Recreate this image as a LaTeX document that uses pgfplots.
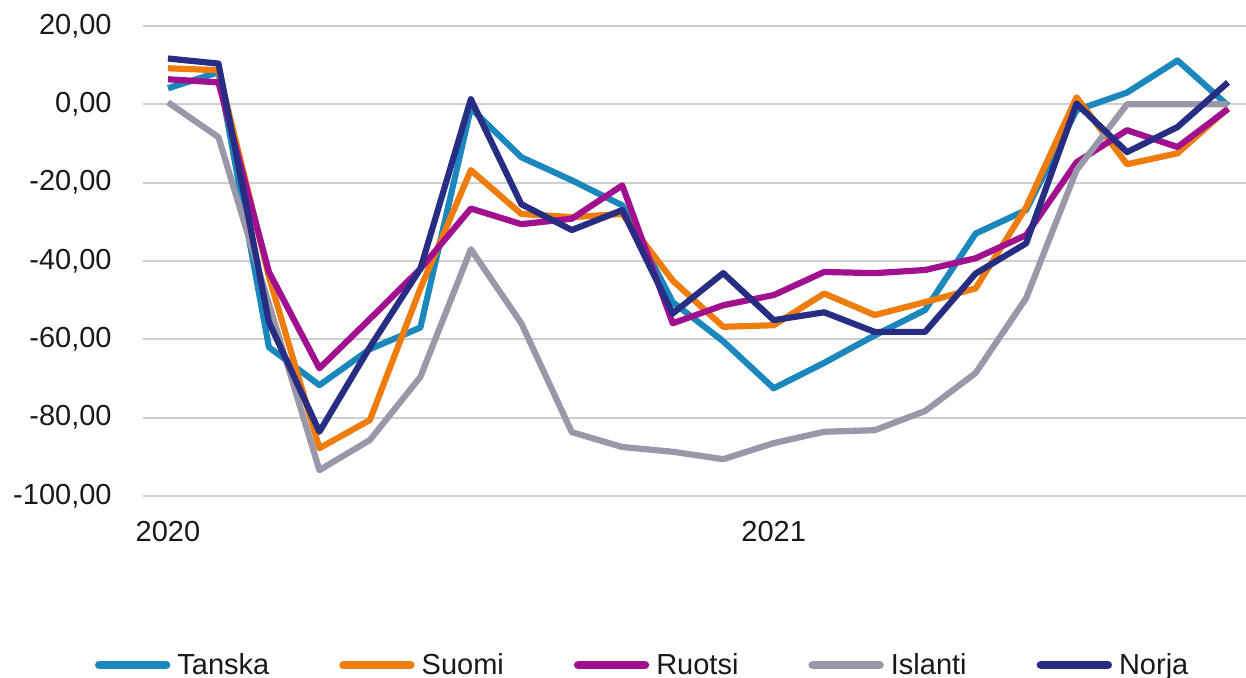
\documentclass[border=0pt]{standalone}
\usepackage{fontspec}
\setmainfont{Liberation Sans}
\usepackage{pgfplots}
\pgfplotsset{compat=1.18}
\usepackage{pgfplotstable}
\definecolor{tanska}{HTML}{1A88BC}
\definecolor{suomi}{HTML}{EF7D0E}
\definecolor{ruotsi}{HTML}{A1118F}
\definecolor{islanti}{HTML}{9898A8}
\definecolor{norja}{HTML}{282D84}
\definecolor{gridc}{HTML}{CFCFCF}

% kuukaudet 0 = tammikuu 2020 ... 21 = lokakuu 2021
\pgfplotstableread{
i  tanska suomi ruotsi islanti norja
0   4.1    9.2   6.4    0.5    11.7
1   8.2    8.7   5.6   -8.4    10.4
2  -62.0  -44.0 -42.8  -51.0  -55.6
3  -71.7  -87.8 -67.4  -93.4  -83.6
4  -62.5  -80.6 -54.8  -85.7  -62.0
5  -57.0  -47.0 -42.0  -69.6  -42.0
6   -1.0  -16.8 -26.6  -37.0    1.3
7  -13.5  -28.0 -30.6  -55.9  -25.5
8  -19.4  -28.8 -29.2  -83.7  -32.1
9  -25.8  -28.0 -20.7  -87.5  -27.0
10 -50.5  -45.0 -55.9  -88.7  -53.4
11 -60.5  -56.8 -51.3  -90.6  -43.1
12 -72.5  -56.4 -48.7  -86.5  -55.1
13 -66.0  -48.3 -42.8  -83.6  -53.1
14 -59.0  -53.8 -43.1  -83.2  -58.1
15 -52.5  -50.5 -42.3  -78.3  -58.1
16 -33.0  -47.0 -39.3  -68.6  -43.2
17 -27.0  -26.3 -33.4  -49.5  -35.5
18  -1.5    1.8 -14.8  -16.8    0.2
19   3.0  -15.3  -6.6    0.0  -12.2
20  11.2  -12.5 -10.9    0.0   -5.8
21  -0.3   -1.0  -1.2    0.0    5.6
}\data

\begin{document}
\begin{tikzpicture}
\begin{axis}[
    scale only axis,
    width=551.5pt, height=235pt,
    xmin=-0.495, xmax=21.357,
    ymin=-100, ymax=20,
    axis line style={draw=none},
    major tick length=0pt,
    xtick={0,12}, xticklabels={2020,2021},
    ytick={-100,-80,...,20},
    yticklabels={{-100,00},{-80,00},{-60,00},{-40,00},{-20,00},{0,00},{20,00}},
    ymajorgrids=true,
    y grid style={gridc, line width=1.1pt},
    tick label style={font=\fontsize{14.5}{17}\selectfont, text=black!90},
    yticklabel style={anchor=east, inner sep=0pt, xshift=-15.5pt},
    xticklabel style={anchor=north, inner sep=0pt, yshift=-12.5pt},
    every axis plot/.append style={line width=3.1pt, line join=round, mark=none},
    legend columns=-1,
    legend style={draw=none, fill=none, inner sep=0pt, outer sep=0pt,
        at={(0,0)}, anchor=west, xshift=-24pt, yshift=-84.5pt,
        font=\fontsize{14.5}{17}\selectfont,
        nodes={inner sep=0pt, text=black!90},
        /tikz/every odd column/.append style={column sep=3.5pt},
        /tikz/every even column/.append style={column sep=35pt}},
    legend image code/.code={\draw[#1, line width=4.2pt, line cap=round] (2pt,0pt) -- (35.5pt,0pt);},
]
\addplot[tanska]  table[x=i, y=tanska]  {\data};
\addplot[suomi]   table[x=i, y=suomi]   {\data};
\addplot[ruotsi]  table[x=i, y=ruotsi]  {\data};
\addplot[islanti] table[x=i, y=islanti] {\data};
\addplot[norja]   table[x=i, y=norja]   {\data};
\legend{Tanska, Suomi, Ruotsi, Islanti, Norja}
\end{axis}
\pgfresetboundingbox
\path (-71.5pt,-91pt) rectangle (551.5pt,248pt);
\end{tikzpicture}
\end{document}
